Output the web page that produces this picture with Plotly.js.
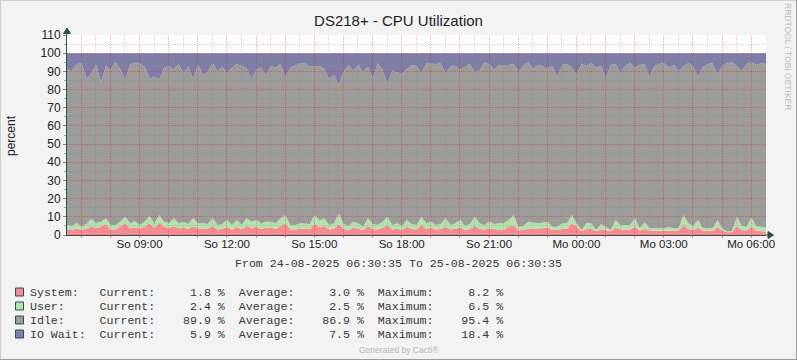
<!DOCTYPE html>
<html><head><meta charset="utf-8">
<script src="https://cdn.plot.ly/plotly-3.0.1.min.js"></script>
<style>html,body{margin:0;padding:0;background:#F3F3F3;} #chart{width:797px;height:360px;}</style>
</head><body><div id="chart"></div>
<script>
const startTime = '2025-08-24T06:30:35Z';
const stepMinutes = 10;
const rangeStart = '2025-08-24 06:30:35';
const rangeEnd = '2025-08-25 06:30:35';

const system = [2.7,2.7,3.5,2.7,3.5,4.8,3.7,4.6,6.0,2.7,
3.0,4.6,6.4,3.7,4.0,3.7,4.6,6.4,3.7,7.0,
4.6,3.7,5.0,3.7,4.0,3.5,4.8,3.7,3.7,3.3,
5.0,3.0,3.3,4.6,3.0,4.6,3.0,5.0,4.0,4.6,
3.5,4.0,4.0,3.5,5.0,6.4,3.0,3.0,3.5,3.5,
3.3,6.0,4.6,5.0,3.0,3.5,6.0,3.3,2.7,4.0,
3.5,2.7,5.0,3.3,3.0,4.0,5.5,3.0,3.5,2.7,
4.6,3.3,3.0,5.5,3.3,4.0,3.0,3.3,4.6,3.0,
3.5,4.2,2.7,3.3,5.0,3.3,3.0,3.7,3.3,2.7,
2.7,4.6,5.5,2.5,2.7,3.7,3.5,3.5,3.7,4.2,
2.7,2.7,3.3,3.3,6.4,4.6,2.0,3.3,3.3,2.0,
3.0,2.7,2.0,4.0,3.0,3.0,3.0,4.6,2.3,3.5,
2.3,2.3,2.3,2.3,2.5,2.3,2.3,5.5,3.3,2.7,
4.0,2.3,2.3,2.3,4.2,2.3,1.5,1.6,5.0,2.7,
2.5,4.6,2.5,2.2,1.8];

const user = [2.8,2.3,3.1,1.9,2.5,4.2,2.7,2.7,3.2,2.8,
2.5,2.7,3.6,2.7,3.5,1.8,2.7,4.1,2.7,4.0,
2.7,2.7,4.2,2.7,3.3,2.5,4.4,2.7,2.7,2.7,
4.2,2.5,2.7,3.6,2.5,3.6,2.5,4.2,3.3,3.6,
2.9,3.3,3.3,2.9,4.2,4.6,2.5,2.5,2.9,2.9,
2.7,5.0,3.4,4.2,2.5,2.9,5.5,2.7,2.3,3.3,
2.9,1.9,4.2,2.7,2.5,3.3,4.6,2.5,2.9,2.3,
3.6,2.7,2.5,4.6,3.1,3.3,2.5,2.7,4.6,2.5,
2.9,4.0,2.3,2.7,5.1,3.1,2.5,3.6,2.7,3.7,
3.7,3.6,5.5,2.1,2.3,3.6,3.5,2.9,3.1,3.1,
1.9,1.9,3.1,3.1,4.6,1.8,0.7,3.1,3.1,0.7,
3.0,1.9,0.7,4.2,2.5,2.5,2.5,4.6,1.4,3.5,
1.4,1.4,1.4,1.4,1.7,1.4,1.4,5.5,3.1,2.3,
4.2,1.4,1.4,1.4,4.0,1.4,0.3,0.7,5.1,2.3,
2.1,4.9,2.5,2.4,2.4];

const idle = [86.1,85.0,87.4,89.7,80.0,80.0,87.1,76.7,83.8,85.5,
89.5,83.7,75.0,87.6,86.8,88.8,85.2,75.5,80.6,74.5,
84.7,86.6,81.8,87.6,81.7,86.5,76.8,87.1,81.6,84.0,
85.3,84.5,86.5,80.8,86.5,85.8,87.5,82.8,78.2,82.8,
85.6,80.7,85.7,85.6,84.8,76.0,86.5,87.5,87.9,87.9,
86.5,82.0,85.0,82.3,80.5,81.6,71.0,84.0,88.5,82.7,
87.1,84.9,83.3,80.0,89.0,83.7,72.9,84.5,83.1,83.8,
82.8,87.5,87.5,78.9,87.9,86.7,88.5,88.3,79.8,87.0,
86.6,82.8,87.5,88.0,79.4,84.1,89.5,86.7,85.0,87.1,
87.1,85.3,83.0,85.4,88.0,87.7,84.5,87.1,86.2,84.2,
88.4,82.4,87.1,87.6,81.0,81.6,91.3,86.6,88.1,89.3,
87.0,81.4,90.8,85.8,83.5,87.5,89.0,82.8,89.8,87.0,
83.3,89.3,90.3,90.8,87.8,89.8,86.3,82.0,88.1,88.0,
78.8,88.8,90.3,90.8,79.8,89.3,92.7,92.7,82.9,85.0,
89.4,85.5,88.5,89.9,89.9];

const iowait = [8.4,10.0,6.0,5.7,14.0,11.0,6.5,16.0,7.0,9.0,
5.0,9.0,15.0,6.0,5.7,5.7,7.5,14.0,13.0,14.5,
8.0,7.0,9.0,6.0,11.0,7.5,14.0,6.5,12.0,10.0,
5.5,10.0,7.5,11.0,8.0,6.0,7.0,8.0,14.5,9.0,
8.0,12.0,7.0,8.0,6.0,13.0,8.0,7.0,5.7,5.7,
7.5,7.0,7.0,8.5,14.0,12.0,17.5,10.0,6.5,10.0,
6.5,10.5,7.5,14.0,5.5,9.0,17.0,10.0,10.5,11.2,
9.0,6.5,7.0,11.0,5.7,6.0,6.0,5.7,11.0,7.5,
7.0,9.0,7.5,6.0,10.5,9.5,5.0,6.0,9.0,6.5,
6.5,6.5,6.0,10.0,7.0,5.0,8.5,6.5,7.0,8.5,
7.0,13.0,6.5,6.0,8.0,12.0,6.0,7.0,5.5,8.0,
7.0,14.0,6.5,6.0,11.0,7.0,5.5,8.0,6.5,6.0,
13.0,7.0,6.0,5.5,8.0,6.5,10.0,7.0,5.5,7.0,
13.0,7.5,6.0,5.5,12.0,7.0,5.5,5.0,7.0,10.0,
6.0,5.0,6.5,5.5,5.9];

const seriesNames = ['System', 'User', 'Idle', 'IO Wait'];
const seriesColors = ['#F98A92', '#B4E2AC', '#9C9C9A', '#7E7EA6'];
const currentVals = [1.8, 2.4, 89.9, 5.9];
const averageVals = [3.0, 2.5, 86.9, 7.5];
const maximumVals = [8.2, 6.5, 95.4, 18.4];

const tickTimes = ['2025-08-24 09:00:00','2025-08-24 12:00:00','2025-08-24 15:00:00','2025-08-24 18:00:00',
  '2025-08-24 21:00:00','2025-08-25 00:00:00','2025-08-25 03:00:00','2025-08-25 06:00:00'];
const tickLabels = ['So 09:00','So 12:00','So 15:00','So 18:00','So 21:00','Mo 00:00','Mo 03:00','Mo 06:00'];

const chartTitle = 'DS218+ - CPU Utilization';
const yTitle = 'percent';
const periodText = 'From 24-08-2025 06:30:35 To 25-08-2025 06:30:35';
const sideText = 'RRDTOOL / TOBI OETIKER';
const footerText = 'Generated by Cacti®';

// time stamps
const t0 = Date.parse(startTime);
const times = system.map((_, i) => new Date(t0 + i * stepMinutes * 60000).toISOString().replace('T', ' ').slice(0, 19));

// geometry helpers (pixel -> paper)
const W = 797, H = 360, L = 67, R = 31, T = 35, B = 125;
const PW = W - L - R, PH = H - T - B;
const PX = p => (p - L) / PW;
const PY = p => (H - B - p) / PH;

const seriesData = [system, user, idle, iowait];
const traces = seriesData.map((d, k) => ({
  type: 'scatter', mode: 'lines', x: times, y: d, name: seriesNames[k],
  stackgroup: 'cpu', fillcolor: seriesColors[k],
  line: {width: 0, shape: 'linear', color: seriesColors[k]},
  showlegend: false, hoverinfo: 'skip'
}));
traces.push({type: 'scatter', mode: 'lines', x: [], y: [], xaxis: 'x2', yaxis: 'y2', showlegend: false, hoverinfo: 'skip'});

const axisColor = '#2F4F4F';
const majorGrid = 'rgba(255,0,0,0.33)';
const minorGrid = 'rgba(120,120,120,0.25)';
const mono = 'Liberation Mono, Courier New, monospace';

const nb = s => s.replace(/ /g, '\u00A0');
const padL = (s, n) => ' '.repeat(Math.max(0, n - s.length)) + s;
const padR = (s, n) => s + ' '.repeat(Math.max(0, n - s.length));

const annotations = [];
const shapes = [];
// plot background (below all subplots)
shapes.push({type: 'rect', xref: 'paper', yref: 'paper', x0: 0, x1: 1, y0: 0, y1: 1, layer: 'below',
  fillcolor: '#FCFCFC', line: {width: 0}});
seriesNames.forEach((name, k) => {
  const line = padR(name + ':', 10) + 'Current:' + padL(currentVals[k].toFixed(1) + ' %', 10) +
    '  Average:' + padL(averageVals[k].toFixed(1) + ' %', 10) +
    '  Maximum:' + padL(maximumVals[k].toFixed(1) + ' %', 10);
  const cy = 292 + k * 14;
  annotations.push({xref: 'paper', yref: 'paper', x: PX(28), y: PY(cy), xanchor: 'left', yanchor: 'middle',
    text: nb(line), showarrow: false, font: {family: mono, size: 11.6, color: '#3A3A3A'}});
  shapes.push({type: 'rect', xref: 'paper', yref: 'paper', x0: PX(15.5), x1: PX(23.5), y0: PY(cy - 4), y1: PY(cy + 4),
    fillcolor: seriesColors[k], line: {color: '#2F4F4F', width: 1}});
});
annotations.push({xref: 'paper', yref: 'paper', x: PX(398.5), y: PY(263), xanchor: 'center', yanchor: 'middle',
  text: nb(periodText), showarrow: false, font: {family: mono, size: 11.6, color: '#3A3A3A'}});
annotations.push({xref: 'paper', yref: 'paper', x: PX(11), y: PY(136), xanchor: 'center', yanchor: 'middle',
  text: yTitle, textangle: -90, showarrow: false, font: {size: 12, color: '#222'}});
annotations.push({xref: 'paper', yref: 'paper', x: PX(788), y: PY(57), xanchor: 'center', yanchor: 'middle',
  text: sideText, textangle: 90, showarrow: false, font: {size: 8.5, color: '#BBBBBB'}});
annotations.push({xref: 'paper', yref: 'paper', x: PX(398.5), y: PY(350), xanchor: 'center', yanchor: 'middle',
  text: footerText, showarrow: false, font: {size: 8.5, color: '#B8B8B8'}});

// axis arrows
shapes.push({type: 'line', xref: 'paper', yref: 'paper', x0: 0, x1: 0, y0: 1, y1: PY(31), line: {color: axisColor, width: 1}});
shapes.push({type: 'path', xref: 'paper', yref: 'paper',
  path: `M ${PX(67)} ${PY(28)} L ${PX(63.5)} ${PY(33.5)} L ${PX(70.5)} ${PY(33.5)} Z`,
  fillcolor: axisColor, line: {color: axisColor, width: 1}});
shapes.push({type: 'line', xref: 'paper', yref: 'paper', x0: 1, x1: PX(770), y0: 0, y1: 0, line: {color: axisColor, width: 1}});
shapes.push({type: 'path', xref: 'paper', yref: 'paper',
  path: `M ${PX(773.5)} ${PY(235)} L ${PX(768)} ${PY(231.5)} L ${PX(768)} ${PY(238.5)} Z`,
  fillcolor: axisColor, line: {color: axisColor, width: 1}});
// outer border
shapes.push({type: 'line', xref: 'paper', yref: 'paper', x0: PX(0), x1: PX(797), y0: PY(0.5), y1: PY(0.5), line: {color: '#CFCFCF', width: 1}});
shapes.push({type: 'line', xref: 'paper', yref: 'paper', x0: PX(0.5), x1: PX(0.5), y0: PY(0), y1: PY(360), line: {color: '#CFCFCF', width: 1}});
shapes.push({type: 'line', xref: 'paper', yref: 'paper', x0: PX(796.5), x1: PX(796.5), y0: PY(0), y1: PY(360), line: {color: '#9A9A9A', width: 1}});
shapes.push({type: 'line', xref: 'paper', yref: 'paper', x0: PX(0), x1: PX(797), y0: PY(359.5), y1: PY(359.5), line: {color: '#9A9A9A', width: 1}});

const layout = {
  width: W, height: H,
  margin: {l: L, r: R, t: T, b: B},
  paper_bgcolor: '#F3F3F3', plot_bgcolor: 'rgba(0,0,0,0)',
  font: {family: 'Liberation Sans, Arial, sans-serif', size: 12, color: '#222'},
  title: {text: chartTitle, x: 0.5, xref: 'container', y: 1 - 21 / H, yref: 'container', yanchor: 'middle',
    font: {size: 15, color: '#222'}},
  showlegend: false, hovermode: false,
  xaxis: {type: 'date', range: [rangeStart, rangeEnd], tickmode: 'array', tickvals: tickTimes, ticktext: tickLabels,
    ticks: '', showgrid: false, zeroline: false, showline: false,
    tickfont: {size: 11.5, color: '#222'}},
  yaxis: {range: [0, 110], tickmode: 'linear', tick0: 0, dtick: 10, ticks: 'outside', ticklen: 3, tickcolor: '#888',
    showgrid: false, zeroline: false, showline: false, tickfont: {size: 12, color: '#222'},
    minor: {dtick: 5, ticks: 'outside', ticklen: 2, tickcolor: '#AAA', showgrid: false}},
  xaxis2: {type: 'date', range: [rangeStart, rangeEnd], anchor: 'y2', tickmode: 'linear', tick0: '2025-08-24 07:00:00',
    dtick: 3600000, showticklabels: false, ticks: 'outside', ticklen: 2, tickcolor: 'rgba(255,0,0,0.45)',
    showgrid: true, gridcolor: majorGrid, griddash: '1px,1px', gridwidth: 1,
    zeroline: false, showline: true, linecolor: axisColor, linewidth: 1,
    minor: {tick0: '2025-08-24 06:30:00', dtick: 1800000, showgrid: true, gridcolor: minorGrid, griddash: '1px,1px', ticks: ''}},
  yaxis2: {range: [0, 110], anchor: 'x2', tickmode: 'linear', tick0: 0, dtick: 10, showticklabels: false, ticks: '',
    showgrid: true, gridcolor: majorGrid, griddash: '1px,1px', gridwidth: 1, zeroline: false, showline: true,
    linecolor: axisColor, linewidth: 1,
    minor: {dtick: 5, showgrid: true, gridcolor: minorGrid, griddash: '1px,1px', ticks: ''}},
  annotations: annotations,
  shapes: shapes
};

Plotly.newPlot('chart', traces, layout, {displayModeBar: false, staticPlot: true});
</script>
</body></html>
